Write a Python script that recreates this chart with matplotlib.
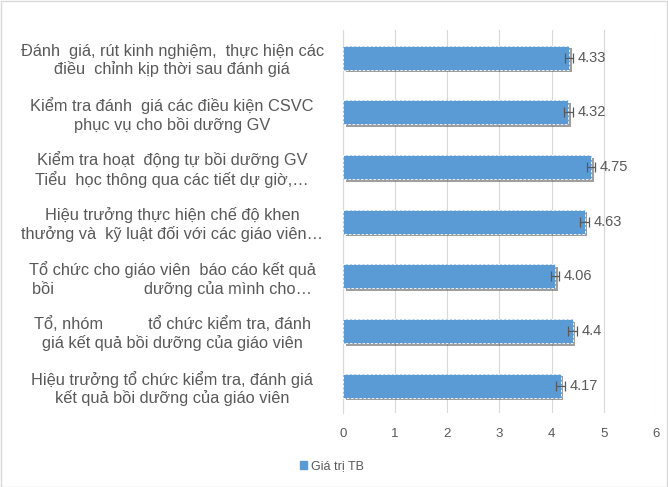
import matplotlib.pyplot as plt
import matplotlib.patheffects as pe
from matplotlib.patches import Rectangle

plt.rcParams['font.family'] = ['Liberation Sans', 'DejaVu Sans']

categories = [
    "Đánh  giá, rút kinh nghiệm,  thực hiện các\nđiều  chỉnh kịp thời sau đánh giá",
    "Kiểm tra đánh  giá các điều kiện CSVC\nphục vụ cho bồi dưỡng GV",
    "Kiểm tra hoạt  động tự bồi dưỡng GV\nTiểu  học thông qua các tiết dự giờ,…",
    "Hiệu trưởng thực hiện chế độ khen\nthưởng và  kỹ luật đối với các giáo viên…",
    "Tổ chức cho giáo viên  báo cáo kết quả\nbồi                    dưỡng của mình cho…",
    "Tổ, nhóm          tổ chức kiểm tra, đánh\ngiá kết quả bồi dưỡng của giáo viên",
    "Hiệu trưởng tổ chức kiểm tra, đánh giá\nkết quả bồi dưỡng của giáo viên",
]
values = [4.33, 4.32, 4.75, 4.63, 4.06, 4.4, 4.17]
value_labels = ["4.33", "4.32", "4.75", "4.63", "4.06", "4.4", "4.17"]
err = 0.08
series_name = "Giá trị TB"

blue = '#5B9BD5'
grey = '#595959'

fig = plt.figure(figsize=(6.68, 4.87), dpi=100)
ax = fig.add_axes([0.5135, 0.152, 0.4685, 0.786])

ypos = list(range(len(categories)))
bars = ax.barh(ypos, values, height=0.44, color=blue, edgecolor='white',
               linestyle=(0, (3, 2)), linewidth=0.6, zorder=3, label=series_name)
for b in bars:
    b.set_path_effects([pe.SimplePatchShadow(offset=(2, -2), shadow_rgbFace='#404040', alpha=0.5),
                        pe.Normal()])
ax.errorbar(values, ypos, xerr=err, fmt='none', ecolor=grey, elinewidth=0.9,
            capsize=3.5, capthick=0.9, zorder=4)
for y, v, t in zip(ypos, values, value_labels):
    ax.text(v + 0.17, y, t, va='center', ha='left', fontsize=10.5, color=grey)

ax.set_xlim(0, 6)
ax.set_ylim(len(categories) - 0.5, -0.5)
ax.set_xticks(range(7))
ax.tick_params(axis='x', length=0, labelsize=9.5, labelcolor=grey, pad=11)
ax.set_yticks(ypos)
ax.set_yticklabels(categories, ha='center', multialignment='center', fontsize=11.8, color=grey)
ax.tick_params(axis='y', length=0, pad=123)
ax.grid(axis='x', color='#d9d9d9', linewidth=0.8, zorder=0)
for s in ['top', 'right', 'bottom']:
    ax.spines[s].set_visible(False)
ax.spines['left'].set_color('#d9d9d9')

fig.legend(handles=[Rectangle((0, 0), 1, 1, color=blue)], labels=[series_name],
           loc='center', bbox_to_anchor=(0.497, 0.043), frameon=False, fontsize=9,
           handlelength=0.6, handleheight=0.6, handletextpad=0.3, labelcolor=grey)

fig.patches.append(Rectangle((0.001, 0.001), 0.997, 0.997, transform=fig.transFigure,
                             fill=False, edgecolor='#d9d9d9', linewidth=1))
fig.savefig('out.png', dpi=100)
